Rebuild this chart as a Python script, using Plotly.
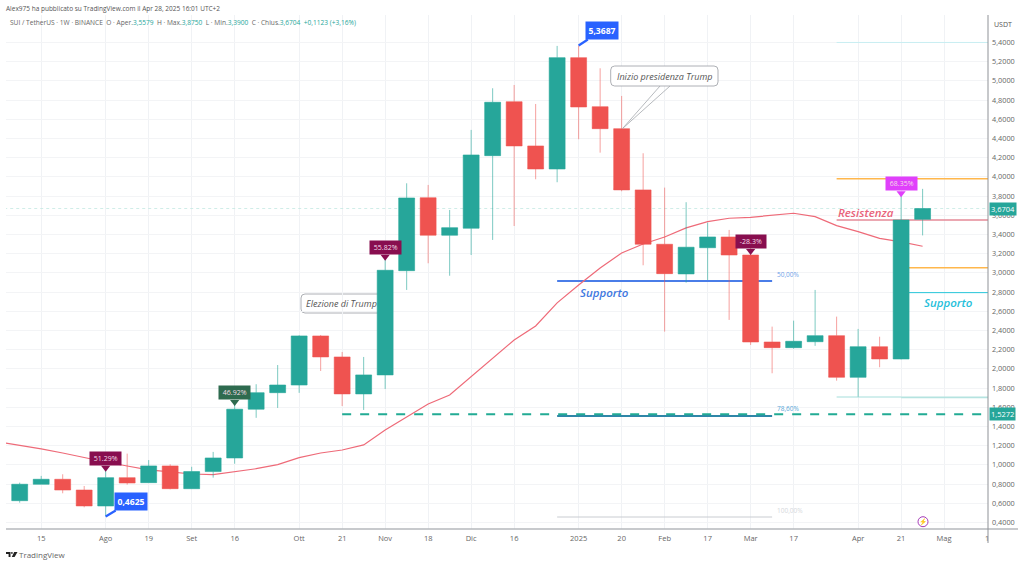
import plotly.graph_objects as go

# ---------- data ----------
dates = ["2024-07-08","2024-07-15","2024-07-22","2024-07-29","2024-08-05","2024-08-12","2024-08-19","2024-08-26",
         "2024-09-02","2024-09-09","2024-09-16","2024-09-23","2024-09-30","2024-10-07","2024-10-14","2024-10-21",
         "2024-10-28","2024-11-04","2024-11-11","2024-11-18","2024-11-25","2024-12-02","2024-12-09","2024-12-16",
         "2024-12-23","2024-12-30","2025-01-06","2025-01-13","2025-01-20","2025-01-27","2025-02-03","2025-02-10",
         "2025-02-17","2025-02-24","2025-03-03","2025-03-10","2025-03-17","2025-03-24","2025-03-31","2025-04-07",
         "2025-04-14","2025-04-21","2025-04-28"]
opens = [0.627,0.798,0.850,0.738,0.572,0.867,0.815,0.989,0.752,0.930,1.072,1.580,1.752,1.832,2.343,2.124,1.739,1.937,
         3.023,3.783,3.392,3.465,4.221,4.783,4.322,4.082,5.242,4.731,4.502,3.864,3.298,2.989,3.262,3.374,3.186,2.280,
         2.221,2.283,2.346,1.912,2.231,2.103,3.5579]
closes = [0.798,0.850,0.738,0.572,0.867,0.811,0.989,0.752,0.930,1.072,1.580,1.752,1.832,2.343,2.124,1.739,1.937,3.027,
          3.780,3.392,3.471,4.228,4.777,4.322,4.082,5.242,4.728,4.502,3.864,3.298,2.992,3.267,3.374,3.186,2.280,2.221,
          2.287,2.346,1.912,2.231,2.103,3.551,3.6704]
highs = [0.815,0.885,0.902,0.780,0.954,1.117,1.050,1.006,0.980,1.135,1.630,1.840,2.040,2.350,2.353,2.176,2.124,3.155,
         3.933,3.916,3.655,4.489,4.923,4.957,4.759,5.364,5.3687,5.131,4.843,4.246,3.888,3.736,3.523,3.447,3.270,2.440,
         2.502,2.822,2.544,2.416,2.335,3.829,3.8750]
lows = [0.606,0.798,0.704,0.558,0.4625,0.794,0.815,0.745,0.752,0.867,1.012,1.490,1.593,1.750,1.978,1.613,1.572,1.790,
        2.822,3.100,2.970,3.186,3.343,3.488,3.975,3.944,4.392,4.252,3.850,3.079,2.388,2.898,2.926,2.510,2.249,1.954,
        2.210,2.240,1.877,1.710,2.017,2.100,3.3900]
ma_dates = ["2024-07-01"] + dates
ma_values = [1.240,1.204,1.166,1.124,1.075,1.030,0.988,0.947,0.926,0.905,0.898,0.926,0.960,1.002,1.075,1.124,1.155,1.208,
             1.364,1.499,1.634,1.728,1.916,2.114,2.301,2.447,2.687,2.874,3.051,3.207,3.301,3.374,3.468,3.533,3.569,
             3.579,3.603,3.621,3.585,3.492,3.429,3.360,3.322,3.277]

price_ticks = [0.4,0.6,0.8,1.0,1.2,1.4,1.6,1.8,2.0,2.2,2.4,2.6,2.8,3.0,3.2,3.4,3.6,3.8,4.0,4.2,4.4,4.6,4.8,5.0,5.2,5.4]
date_ticks = ["2024-07-15","2024-08-05","2024-08-19","2024-09-02","2024-09-16","2024-10-07","2024-10-21","2024-11-04",
              "2024-11-18","2024-12-02","2024-12-16","2025-01-06","2025-01-20","2025-02-03","2025-02-17","2025-03-03",
              "2025-03-17","2025-04-07","2025-04-21","2025-05-05","2025-05-19"]
date_labels = ["15","Ago","19","Set","16","Ott","21","Nov","18","Dic","16","2025","20","Feb","17","Mar","17","Apr","21","Mag","1"]

level_values = [5.40,3.98,3.054,3.551,2.794,2.915,1.509,0.457,1.707,1.703,1.5272,3.6704]
level_starts = ["2025-03-31","2025-03-31","2025-04-21","2025-03-31","2025-04-21","2024-12-30","2024-12-30","2024-12-30",
                "2025-03-31","2025-04-21","2024-10-21","2024-07-01"]
level_ends = ["2025-05-20","2025-05-20","2025-05-20","2025-05-20","2025-05-20","2025-03-10","2025-03-10","2025-03-10",
              "2025-04-21","2025-05-20","2025-05-20","2025-05-20"]
level_colors = ["#c8eef2","#ffb74d","#ffb74d","#e58a97","#26c6da","#4a7de8","#2f86a8","#c9ccd1","#a5dedb","#b5e3e0","#22ab94","#c4e8e2"]
level_widths = [1,1.5,1.5,1.5,1,2,2,1,1,1.8,2,0.8]
level_dashes = ["solid","solid","solid","solid","solid","solid","solid","solid","solid","solid","dash","dot"]

tag_dates = ["2024-08-05","2024-09-16","2024-11-04","2025-03-03","2025-04-21"]
tag_values = [0.992,1.676,3.190,3.249,3.850]
tag_labels = ["51.29%","46.92%","55.82%","-28.3%","68.35%"]
tag_colors = ["#880e4f","#2e6b4f","#880e4f","#880e4f","#e040fb"]

extreme_dates = ["2024-08-05","2025-01-06"]
extreme_values = [0.4625,5.3687]
extreme_labels = ["0,4625","5,3687"]

# ---------- geometry helpers (1024x564 page) ----------
L, R, T, B = 6, 988, 15, 529
px = lambda x: (x - L) / (R - L)
py = lambda y: (B - y) / (B - T)
FONT = "Open Sans"
GREEN, RED = "#26a69a", "#ef5350"
x_range = ["2024-07-03 13:00", "2025-05-19 07:00"]
y_range = [0.332, 5.686]

fig = go.Figure()

# levels and moving average at the bottom
for v, s, e, c, w, d in zip(level_values, level_starts, level_ends, level_colors, level_widths, level_dashes):
    fig.add_trace(go.Scatter(x=[s, e], y=[v, v], mode="lines", line=dict(color=c, width=w, dash=d),
                             hoverinfo="skip", showlegend=False))
fig.add_trace(go.Scatter(x=ma_dates, y=ma_values, mode="lines", line=dict(color="#ee6a78", width=1.2),
                         name="MA", showlegend=False))

# candles above them
fig.add_trace(go.Candlestick(x=dates, open=opens, high=highs, low=lows, close=closes, xaxis="x2", yaxis="y2",
                             increasing=dict(fillcolor=GREEN, line=dict(color="rgba(38,166,154,0.6)", width=1)),
                             decreasing=dict(fillcolor=RED, line=dict(color="rgba(239,83,80,0.55)", width=1)),
                             whiskerwidth=0, showlegend=False))

# label pointers above the candles
fig.add_trace(go.Scatter(x=tag_dates, y=[v - 0.022 for v in tag_values], mode="markers", xaxis="x3", yaxis="y3",
                         marker=dict(symbol="triangle-down", size=8, color=tag_colors), hoverinfo="skip", showlegend=False))

ann = []
def text(x, y, t, size=8, color="#555", anchor="left", weight=None):
    f = dict(family=FONT, size=size, color=color)
    if weight:
        f["weight"] = weight
    ann.append(dict(xref="paper", yref="paper", x=px(x), y=py(y), text=t, showarrow=False, xanchor=anchor,
                    yanchor="middle", font=f))

G = "#26a69a"
text(4, 8, "Alex975 ha pubblicato su TradingView.com il Apr 28, 2025 16:01 UTC+2", 6.5, "#555")
text(8, 23, "SUI / TetherUS · 1W · BINANCE  O · Aper.<span style='color:%s'>3,5579</span>  H · Max.<span style='color:%s'>3,8750</span>"
             "  L · Min.<span style='color:%s'>3,3900</span>  C · Chius.<span style='color:%s'>3,6704  +0,1123 (+3,16%%)</span>" % (G, G, G, G),
     6.6, "#666")
text(1003, 24.5, "USDT", 7, "#555", "center")
text(17, 554.5, "TradingView", 8, "#666")

text(866, 213, "<i>Resistenza</i>", 11.5, "#e9637a", "center", 600)
text(948, 302, "<i>Supporto</i>", 11.5, "#26c0da", "center", 600)
text(604, 292.7, "<i>Supporto</i>", 11.5, "#3f78e0", "center", 600)
text(775, 274, "50,00%", 6.5, "#6f9fe8")
text(775, 409, "78,60%", 6.5, "#5aa7d8")
text(775, 510, "100,00%", 6.5, "#d5d8dc")
text(664.5, 76, "<i>Inizio presidenza Trump</i>", 9, "#555", "center")
text(341, 303.5, "<i>Elezione di Trump</i>", 9, "#555", "center")
text(923, 521.7, "⚡", 6.5, "#9c27b0", "center")

# percentage tags, anchored to data
for d, v, t, c in zip(tag_dates, tag_values, tag_labels, tag_colors):
    ann.append(dict(x=d, y=v, xref="x", yref="y", text="&nbsp;%s&nbsp;" % t, showarrow=False, xanchor="center", yanchor="bottom",
                    bgcolor=c, borderpad=2, font=dict(family=FONT, size=7, color="#f5dde8")))
# extreme flags
for d, v, t, ax, ay in zip(extreme_dates, extreme_values, extreme_labels, [25, 23], [-15, -15]):
    ann.append(dict(x=d, y=v, xref="x", yref="y", text="<b>%s</b>" % t, showarrow=True, arrowhead=0, arrowwidth=2.2,
                    arrowcolor="#2962ff", ax=ax, ay=ay, bgcolor="#2962ff", borderpad=2.5,
                    font=dict(family=FONT, size=8.6, color="white")))
# last-price tags
for v, t in zip([3.6704, 1.5272], ["3,6704", "1,5272"]):
    ann.append(dict(xref="paper", yref="y", x=1.0008, y=v, text=t, showarrow=False, xanchor="left", yanchor="middle",
                    bgcolor=GREEN, borderpad=1, font=dict(family=FONT, size=7.5, color="white")))

# ---------- callouts, axis rules, logo ----------
def rrect(x0, y0, x1, y1, r=4):
    a, b, c, d = px(x0), px(x1), py(y0), py(y1)
    rx, ry = r / (R - L), r / (B - T)
    return (f"M{a+rx},{c} L{b-rx},{c} Q{b},{c} {b},{c-ry} L{b},{d+ry} Q{b},{d} {b-rx},{d} "
            f"L{a+rx},{d} Q{a},{d} {a},{d+ry} L{a},{c-ry} Q{a},{c} {a+rx},{c} Z")
def seg(x0, y0, x1, y1, color, width=1, layer="above"):
    return dict(type="line", xref="paper", yref="paper", x0=px(x0), y0=py(y0), x1=px(x1), y1=py(y1),
                line=dict(color=color, width=width), layer=layer)

shapes = [
    dict(type="path", xref="paper", yref="paper", path=rrect(610.7, 66, 718, 86), fillcolor="white",
         line=dict(color="#9a9da3", width=0.8), layer="above"),
    seg(660, 86, 622.6, 128.5, "#a5a8ad", 0.8), seg(670, 86, 622.6, 128.5, "#a5a8ad", 0.8),
    dict(type="path", xref="paper", yref="paper", path=rrect(301, 294, 392, 313), fillcolor="white",
         line=dict(color="#9a9da3", width=0.8), layer="below"),
    seg(6, 529, 1018, 529, "#b6b8bc", 1.5), seg(988, 15, 988, 543, "#8f9297", 1),
    dict(type="circle", xref="paper", yref="paper", x0=px(918), x1=px(928), y0=py(516.7), y1=py(526.7),
         line=dict(color="#9c27b0", width=0.9), fillcolor="white", layer="above"),
    # TradingView mark
    dict(type="path", xref="paper", yref="paper", fillcolor="#222", line=dict(width=0),
         path=f"M{px(6)},{py(552)} L{px(10.5)},{py(552)} L{px(10.5)},{py(557)} L{px(8.6)},{py(557)} L{px(8.6)},{py(554)} L{px(6)},{py(554)} Z"),
    dict(type="circle", xref="paper", yref="paper", x0=px(11), x1=px(12.8), y0=py(552), y1=py(553.8),
         fillcolor="#222", line=dict(width=0)),
    dict(type="path", xref="paper", yref="paper", fillcolor="#222", line=dict(width=0),
         path=f"M{px(14.2)},{py(552)} L{px(17.5)},{py(552)} L{px(14.6)},{py(557)} L{px(11.8)},{py(557)} Z"),
]

common_hidden = dict(visible=False, showgrid=False, fixedrange=True)
fig.update_layout(
    width=1024, height=564, margin=dict(l=L, r=1024 - R, t=T, b=564 - B),
    paper_bgcolor="white", plot_bgcolor="white", showlegend=False, boxgap=0.26, boxgroupgap=0,
    font=dict(family=FONT, size=7.5, color="#5a5e66"),
    xaxis=dict(type="date", range=x_range, tickmode="array", tickvals=date_ticks, ticktext=date_labels,
               showgrid=True, gridcolor="#f0f2f5", gridwidth=1, ticks="", zeroline=False, showline=False,
               tickfont=dict(family=FONT, size=7.5, color="#666"), rangeslider=dict(visible=False), ticklabelstandoff=3),
    yaxis=dict(side="right", range=y_range, tickmode="array", tickvals=price_ticks,
               ticktext=[f"{v:.4f}".replace(".", ",") for v in price_ticks],
               showgrid=True, gridcolor="#f3f4f6", gridwidth=1, ticks="", zeroline=False, showline=False,
               tickfont=dict(family=FONT, size=7.3, color="#666"), ticklabelstandoff=3),
    xaxis2=dict(type="date", range=x_range, overlaying="x", rangeslider=dict(visible=False), **common_hidden),
    yaxis2=dict(range=y_range, overlaying="y", side="right", **common_hidden),
    xaxis3=dict(type="date", range=x_range, overlaying="x", **common_hidden),
    yaxis3=dict(range=y_range, overlaying="y", side="right", **common_hidden),
    annotations=ann, shapes=shapes,
)
fig.write_html("out.html", config=dict(displayModeBar=False),
               post_script="document.body.style.margin='0';document.documentElement.style.overflow='hidden';")
